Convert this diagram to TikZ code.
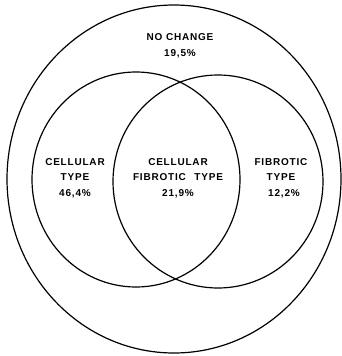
\documentclass[tikz,border=0pt]{standalone}
\usepackage{fontspec}
\setmainfont{Liberation Sans}[LetterSpace=8]
\begin{document}
\begin{tikzpicture}[x=1pt,y=-1pt,
  ring/.style={draw=black,line width=1.2pt},
  lbl/.style={font=\fontsize{10}{15.5}\selectfont\bfseries,align=center,inner sep=0pt}]
\useasboundingbox (0,0) rectangle (342,356);
\draw[ring] (174,179) ellipse [x radius=167, y radius=174];
\draw[ring] (136,179.5) ellipse [x radius=104, y radius=107.5];
\draw[ring] (218,181.5) ellipse [x radius=105, y radius=106.5];
\node[lbl] (nochange) at (180,46) {NO CHANGE\\19,5\%};
\node[lbl] (cell) at (75,178) {CELLULAR\\TYPE\\46,4\%};
\node[lbl] (both) at (178,178) {CELLULAR\\FIBROTIC\hspace{5pt} TYPE\\21,9\%};
\node[lbl] (fib) at (281,178) {FIBROTIC\\TYPE\\\hspace*{6pt}12,2\%};
\end{tikzpicture}
\end{document}
